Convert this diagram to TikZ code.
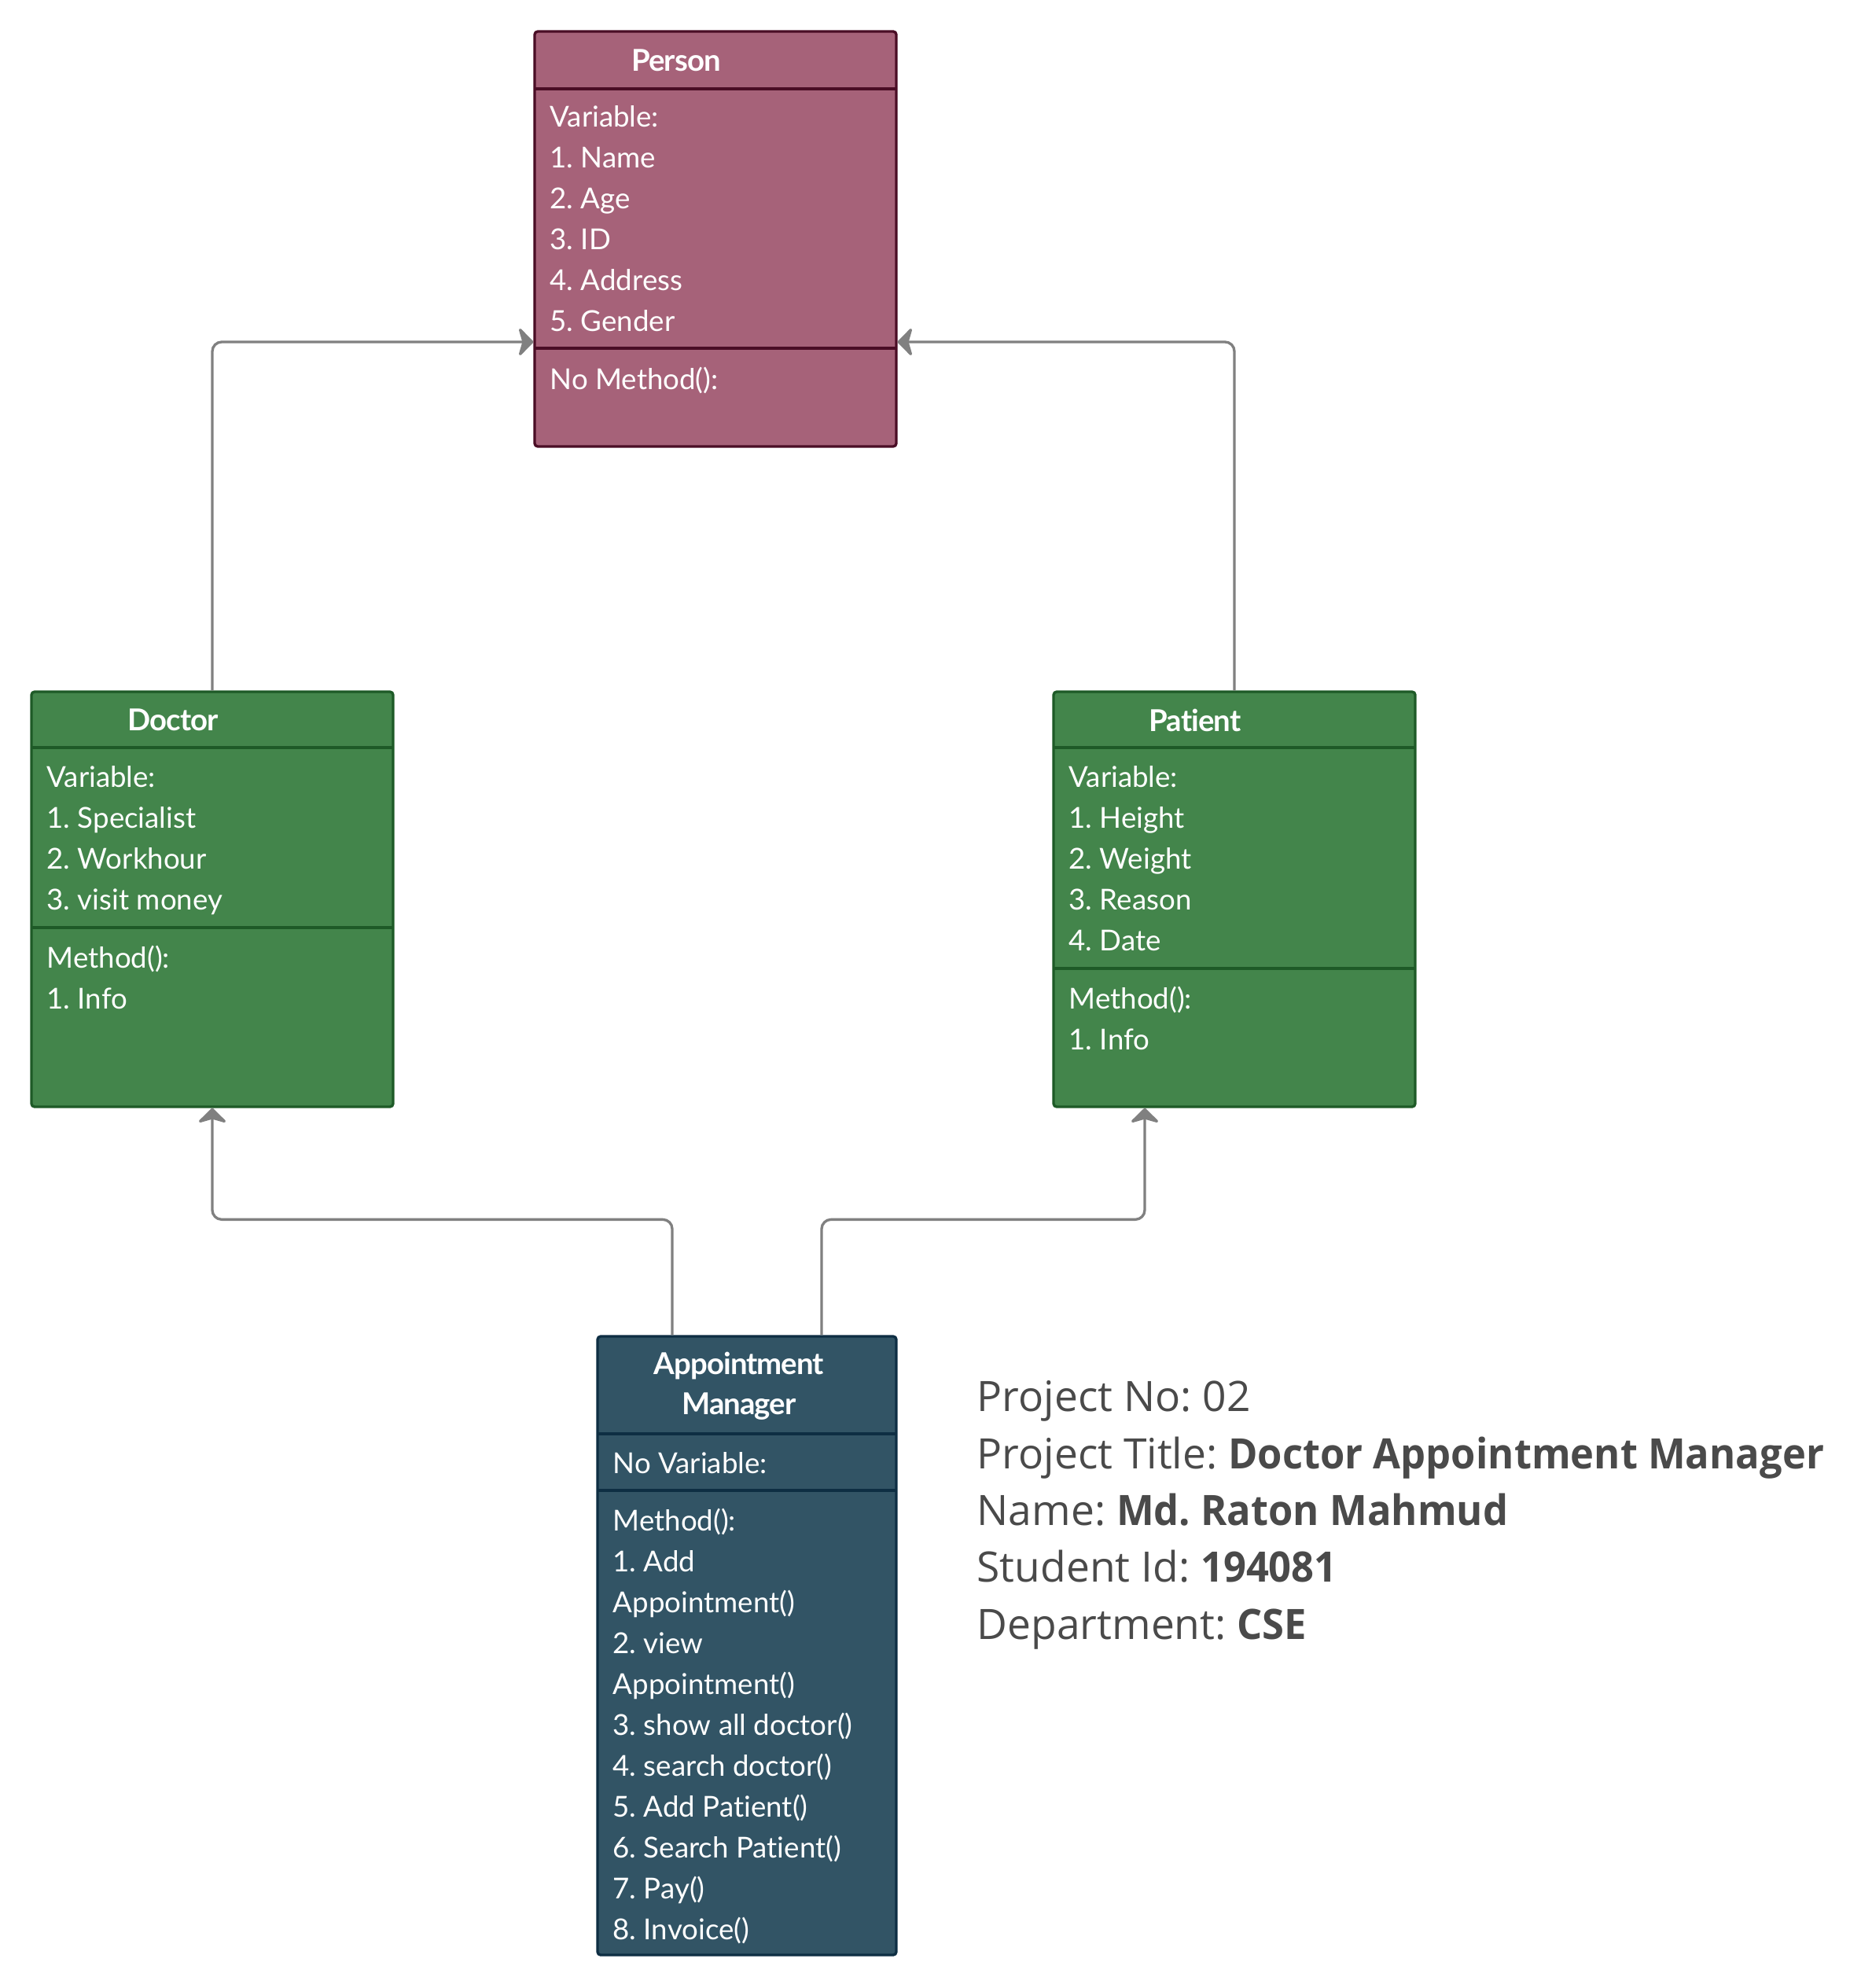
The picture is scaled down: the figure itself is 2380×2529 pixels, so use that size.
\documentclass[tikz,border=0pt]{standalone}
\usepackage{fontspec}
\setmainfont{Lato}[Ligatures=NoCommon]
\newfontfamily\headfont{Lato}[Ligatures=NoCommon, LetterSpace=-2.5]
\newfontfamily\infofont{Open Sans}[BoldFeatures={FakeStretch=0.95}]
\usetikzlibrary{arrows.meta,positioning}
\definecolor{umlPink}{HTML}{A66279}
\definecolor{umlPinkLine}{HTML}{4A0D25}
\definecolor{umlGreen}{HTML}{43854B}
\definecolor{umlGreenLine}{HTML}{1E5A27}
\definecolor{umlSlate}{HTML}{325465}
\definecolor{umlSlateLine}{HTML}{0E2E43}
\definecolor{connGray}{HTML}{808080}
\definecolor{infoGray}{HTML}{4A4A4A}
\tikzset{
  classbox/.style={draw, line width=1pt, rounded corners=1.2pt, inner sep=0pt},
  headtext/.style={text=white, font=\headfont\fontsize{11.5}{15.3}\selectfont\bfseries, inner sep=0pt, align=center},
  bodytext/.style={text=white, font=\fontsize{11}{15.6}\selectfont, align=left, anchor=north west, inner sep=0pt},
  infotext/.style={text=infoGray, font=\infofont\fontsize{16}{21.7}\selectfont, align=left, anchor=north west, inner sep=0pt},
  conn/.style={draw=connGray, line width=1pt, -{Stealth[length=6.2pt,width=12.6pt,inset=1.8pt,round]}},
  elbow/.style={rounded corners=3.6pt},
}
\frenchspacing
\begin{document}
\begin{tikzpicture}[x=0.3pt, y=-0.3pt]
  \useasboundingbox (0,0) rectangle (2380,2529);

  % === Person (top) ===
  \node[classbox, fill=umlPink, draw=umlPinkLine, minimum width=138pt, minimum height=158.4pt] (person) at (910,304) {};
  \draw[umlPinkLine, line width=1pt] (680,113) -- (1140,113) (680,443) -- (1140,443);
  \node[headtext] (person-h) at (860,77) {Person};
  \node[bodytext] (person-v) at (699,134)
    {Variable:\\1. Name\\2. Age\\3. ID\\4. Address\\5. Gender};
  \node[bodytext] (person-m) at (699,466) {No Method():};

  % === Doctor (left) ===
  \node[classbox, fill=umlGreen, draw=umlGreenLine, minimum width=138pt, minimum height=158.4pt] (doctor) at (270,1144) {};
  \draw[umlGreenLine, line width=1pt] (40,951) -- (500,951) (40,1180) -- (500,1180);
  \node[headtext] (doctor-h) at (220,916) {Doctor};
  \node[bodytext] (doctor-v) at (59,974)
    {Variable:\\1. Specialist\\2. Workhour\\3. visit money};
  \node[bodytext] (doctor-m) at (59,1202) {Method():\\1. Info};

  % === Patient (right) ===
  \node[classbox, fill=umlGreen, draw=umlGreenLine, minimum width=138pt, minimum height=158.4pt] (patient) at (1570,1144) {};
  \draw[umlGreenLine, line width=1pt] (1340,951) -- (1800,951) (1340,1232) -- (1800,1232);
  \node[headtext] (patient-h) at (1520,916) {Patient};
  \node[bodytext] (patient-v) at (1359,974)
    {Variable:\\1. Height\\2. Weight\\3. Reason\\4. Date};
  \node[bodytext] (patient-m) at (1359,1254) {Method():\\1. Info};

  % === Appointment Manager (bottom) ===
  \node[classbox, fill=umlSlate, draw=umlSlateLine, minimum width=114pt, minimum height=236.1pt] (am) at (950,2093.5) {};
  \draw[umlSlateLine, line width=1pt] (760,1824) -- (1140,1824) (760,1896) -- (1140,1896);
  \node[headtext] (am-h) at (940,1763) {Appointment\\Manager};
  \node[bodytext] (am-v) at (779,1847) {No Variable:};
  \node[bodytext] (am-m) at (779,1918)
    {Method():\\1. Add\\Appointment()\\2. view\\Appointment()\\3. show all doctor()\\4. search doctor()\\5. Add Patient()\\6. Search Patient()\\7. Pay()\\8. Invoice()};

  % === Inheritance / association connectors ===
  \draw[conn] (doctor.north) [elbow] |- ([yshift=-39.3pt]person.west);
  \draw[conn] (patient.north) [elbow] |- ([yshift=-39.3pt]person.east);
  \draw[conn] ([xshift=-28.5pt]am.north) [elbow] -- ++(0,-147) -| (doctor.south);
  \draw[conn] ([xshift=28.5pt]am.north) [elbow] -- ++(0,-147) -| ([xshift=-34.2pt]patient.south);

  % === Project info ===
  \node[infotext] (info) at (1242,1756)
    {Project No: 02\\
     Project Title: \textbf{Doctor Appointment Manager}\\
     Name: \textbf{Md. Raton Mahmud}\\
     Student Id: \textbf{194081}\\
     Department: \textbf{CSE}};
\end{tikzpicture}
\end{document}
